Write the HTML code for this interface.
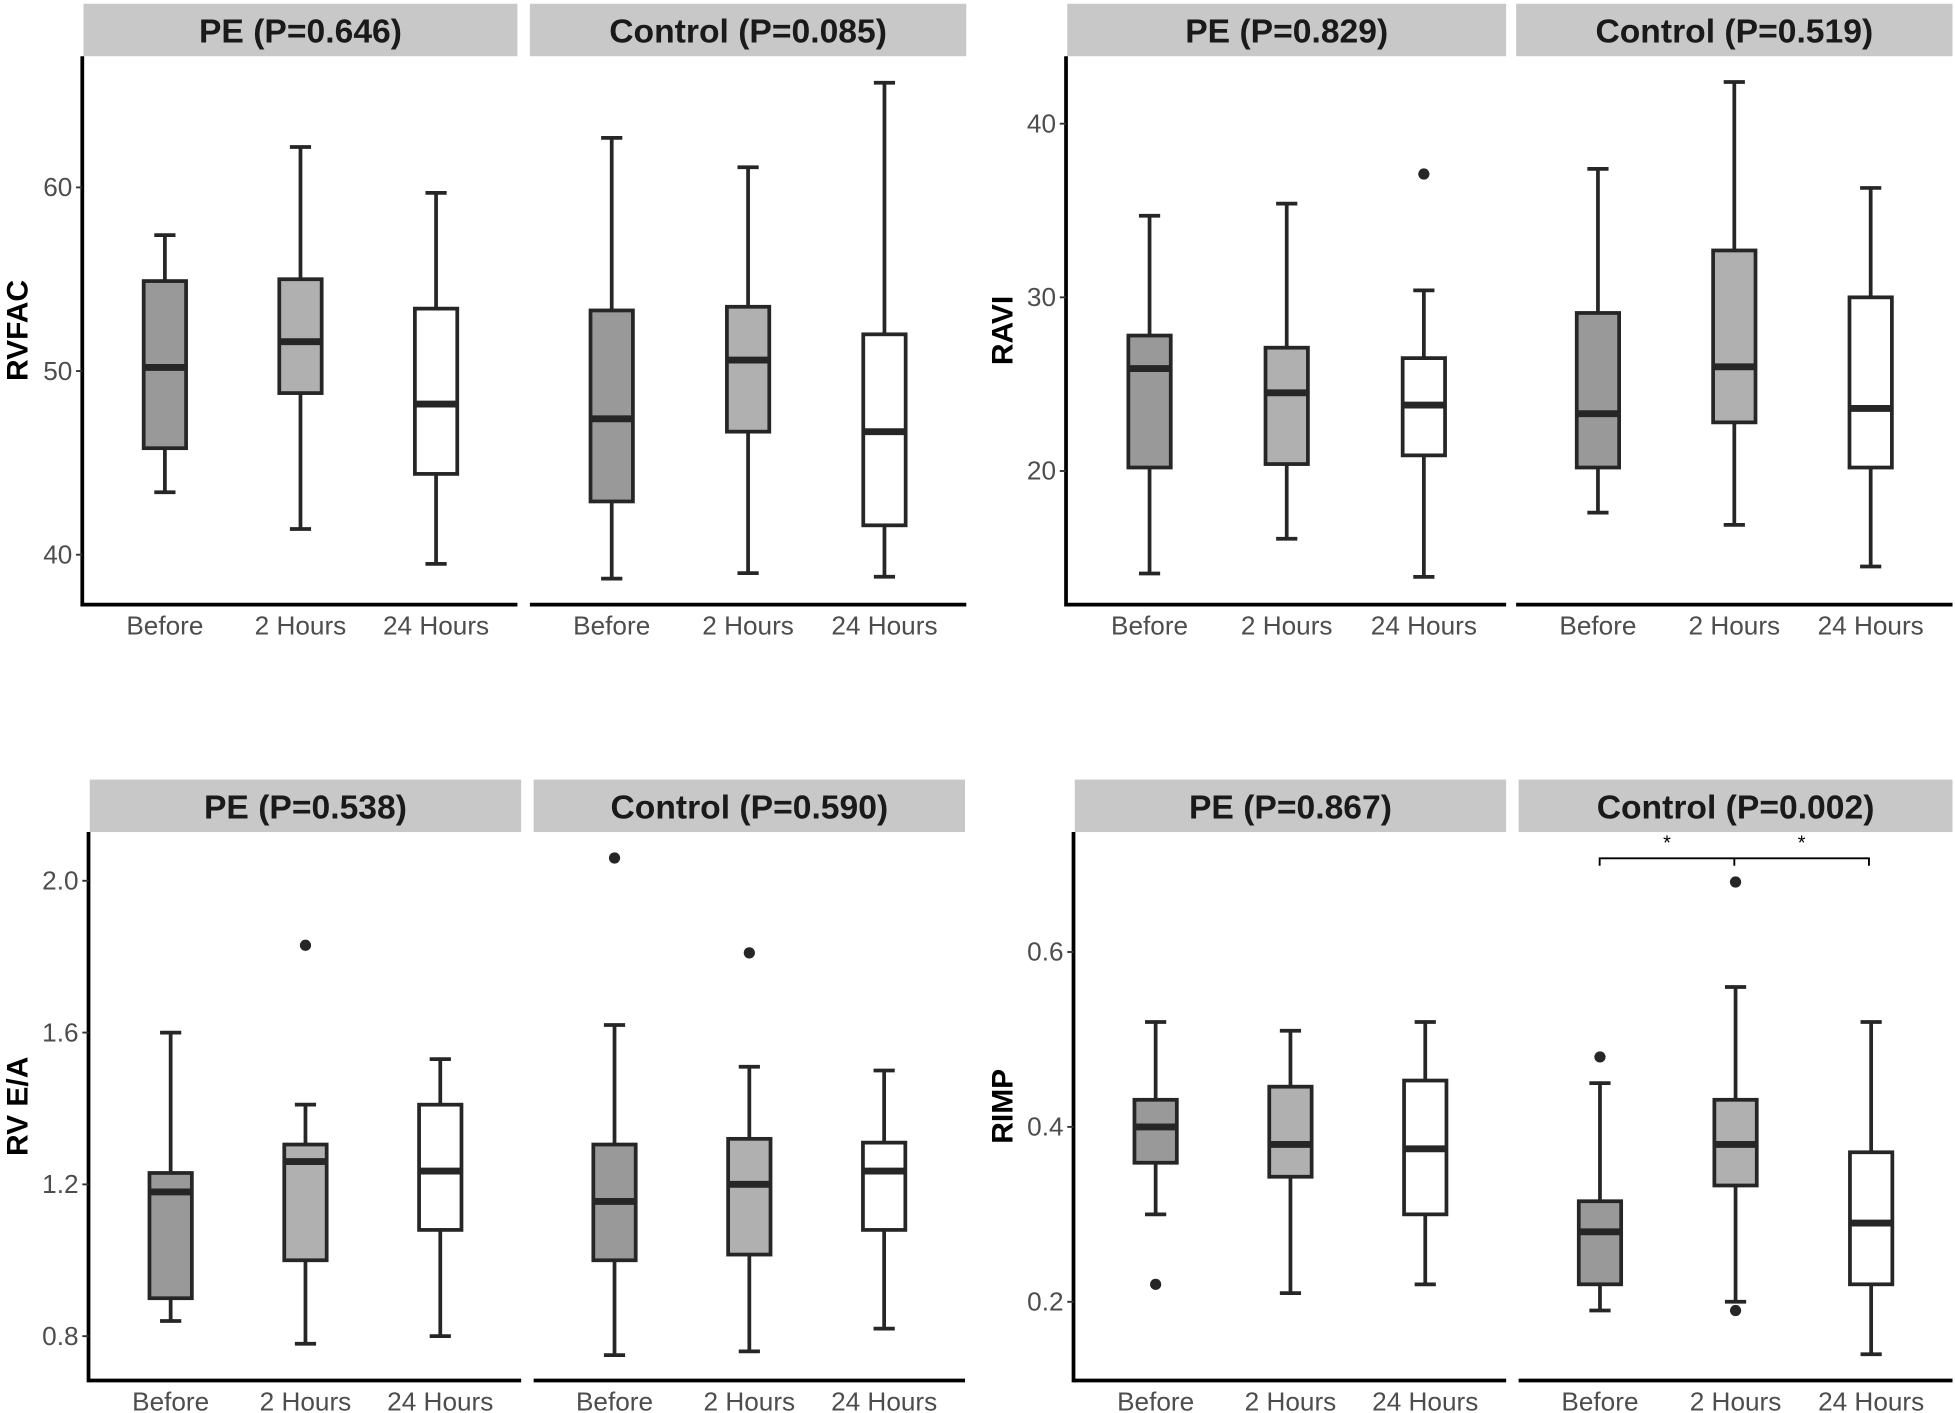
<!DOCTYPE html>
<html><head><meta charset="utf-8"><style>
html,body{margin:0;padding:0;background:#fff;}
svg{display:block;}
text{font-family:"Liberation Sans",Arial,sans-serif;}
</style></head><body>
<svg id="fig" width="1955" height="1413" viewBox="0 0 1568 1131" preserveAspectRatio="none" xmlns="http://www.w3.org/2000/svg"></svg>
<script>
// categories
const groups = ["Before", "2 Hours", "24 Hours"];
// [lowerWhisker, Q1, median, Q3, upperWhisker]
const rvfacPE = [[43.4,45.8,50.2,54.9,57.4],[41.4,48.8,51.6,55.0,62.2],[39.5,44.4,48.2,53.4,59.7]];
const rvfacCtrl = [[38.7,42.9,47.4,53.3,62.7],[39.0,46.7,50.6,53.5,61.1],[38.8,41.6,46.7,52.0,65.7]];
const raviPE = [[14.1,20.2,25.9,27.8,34.7],[16.1,20.4,24.5,27.1,35.4],[13.9,20.9,23.8,26.5,30.4]];
const raviCtrl = [[17.6,20.2,23.3,29.1,37.4],[16.9,22.8,26.0,32.7,42.4],[14.5,20.2,23.6,30.0,36.3]];
const eaPE = [[0.84,0.90,1.18,1.23,1.60],[0.78,1.00,1.26,1.305,1.41],[0.80,1.08,1.235,1.41,1.53]];
const eaCtrl = [[0.75,1.00,1.155,1.305,1.62],[0.76,1.015,1.20,1.32,1.51],[0.82,1.08,1.235,1.31,1.50]];
const rimpPE = [[0.30,0.359,0.40,0.431,0.52],[0.21,0.343,0.38,0.446,0.51],[0.22,0.30,0.375,0.453,0.52]];
const rimpCtrl = [[0.19,0.22,0.28,0.315,0.45],[0.20,0.333,0.38,0.431,0.56],[0.14,0.22,0.29,0.371,0.52]];
// outliers [groupIndex, value]
const raviPEOut = [[2,37.1]];
const eaPEOut = [[1,1.83]];
const eaCtrlOut = [[0,2.06],[1,1.81]];
const rimpPEOut = [[0,0.22]];
const rimpCtrlOut = [[0,0.48],[1,0.68],[1,0.19]];
// tick labels
const rvfacTicks = [40,50,60];
const raviTicks = [20,30,40];
const eaTicks = [0.8,1.2,1.6,2.0];
const rimpTicks = [0.2,0.4,0.6];

const NS="http://www.w3.org/2000/svg";
const svg=document.getElementById('fig');
const fills=["#999999","#b0b0b0","#ffffff"];
function mk(tag,attrs,parent){const e=document.createElementNS(NS,tag);for(const k in attrs)e.setAttribute(k,attrs[k]);(parent||svg).appendChild(e);return e;}

function panel(p){
  const g=mk('g',{});
  
  
  const y=v=>p.y0+(v-p.v0)*(p.y1-p.y0)/(p.v1-p.v0);
  p.facets.forEach((f,fi)=>{
    const s=mk('rect',{x:f.x0,y:p.top-42,width:f.x1-f.x0,height:42,fill:'#c8c8c8'},g);
    
    
    const t=mk('text',{x:(f.x0+f.x1)/2,y:p.top-11,'text-anchor':'middle','font-size':27,'font-weight':'bold',fill:'#1a1a1a'},g);
    t.textContent=f.label;
    
    
    const ax=mk('line',{x1:f.x0,x2:f.x1,y1:p.bottom,y2:p.bottom,stroke:'#000','stroke-width':3},g);
    
    
    const step=(f.x1-f.x0)/3.2;
    const pos=i=>f.x0+step*(i+0.6);
    groups.forEach((gn,i)=>{
      const cx=pos(i);
      const d=f.data[i];
      const bw=34, cap=17;
      mk('line',{x1:cx,x2:cx,y1:y(d[0]),y2:y(d[4]),stroke:'#262626','stroke-width':3},g);
      mk('line',{x1:cx-cap/2,x2:cx+cap/2,y1:y(d[0]),y2:y(d[0]),stroke:'#262626','stroke-width':3},g);
      mk('line',{x1:cx-cap/2,x2:cx+cap/2,y1:y(d[4]),y2:y(d[4]),stroke:'#262626','stroke-width':3},g);
      const b=mk('rect',{x:cx-bw/2,y:y(d[3]),width:bw,height:y(d[1])-y(d[3]),fill:fills[i],stroke:'#262626','stroke-width':3},g);
      
      
      mk('line',{x1:cx-bw/2,x2:cx+bw/2,y1:y(d[2]),y2:y(d[2]),stroke:'#262626','stroke-width':5.5},g);
      const tl=mk('text',{x:cx,y:p.bottom+24,'text-anchor':'middle','font-size':21,fill:'#4d4d4d'},g);
      tl.textContent=gn;
      
      
    });
    (f.out||[]).forEach(o=>{
      const c=mk('circle',{cx:pos(o[0]),cy:y(o[1]),r:4.5,fill:'#262626'},g);
      
      
    });
  });
  const x0=p.facets[0].x0-1;
  const ya=mk('line',{x1:x0,x2:x0,y1:p.top,y2:p.bottom+1.5,stroke:'#000','stroke-width':3},g);
  
  
  p.ticks.forEach(t=>{
    mk('line',{x1:x0-5,x2:x0,y1:y(t),y2:y(t),stroke:'#333','stroke-width':1.5},g);
    const tt=mk('text',{x:x0-8,y:y(t)+7,'text-anchor':'end','font-size':21,fill:'#4d4d4d'},g);
    tt.textContent=p.fmt(t);
    
    
  });
  const yt=mk('text',{x:0,y:0,'text-anchor':'middle','font-size':24,'font-weight':'bold',fill:'#000',transform:`translate(${p.titleX},${(p.top+p.bottom)/2}) rotate(-90)`},g);
  yt.textContent=p.title;
  
  
  return {g,y};
}

panel({name:'rvfac-panel',title:'RVFAC',titleX:22,top:45,bottom:484,v0:50,v1:60,y0:297,y1:150,ticks:rvfacTicks,fmt:t=>String(t),
  facets:[{x0:67,x1:415,label:'PE (P=0.646)',data:rvfacPE},{x0:425,x1:775,label:'Control (P=0.085)',data:rvfacCtrl}]});
panel({name:'ravi-panel',title:'RAVI',titleX:812,top:45,bottom:484,v0:30,v1:40,y0:238,y1:99,ticks:raviTicks,fmt:t=>String(t),
  facets:[{x0:856,x1:1208,label:'PE (P=0.829)',data:raviPE,out:raviPEOut},{x0:1216,x1:1566,label:'Control (P=0.519)',data:raviCtrl}]});
panel({name:'rv-ea-panel',title:'RV E/A',titleX:22,top:666,bottom:1105,v0:1.2,v1:2.0,y0:948,y1:705,ticks:eaTicks,fmt:t=>t.toFixed(1),
  facets:[{x0:72,x1:418,label:'PE (P=0.538)',data:eaPE,out:eaPEOut},{x0:428,x1:774,label:'Control (P=0.590)',data:eaCtrl,out:eaCtrlOut}]});
panel({name:'rimp-panel',title:'RIMP',titleX:812,top:666,bottom:1105,v0:0.4,v1:0.6,y0:902,y1:762,ticks:rimpTicks,fmt:t=>t.toFixed(1),
  facets:[{x0:862,x1:1208,label:'PE (P=0.867)',data:rimpPE,out:rimpPEOut},{x0:1218,x1:1566,label:'Control (P=0.002)',data:rimpCtrl,out:rimpCtrlOut}]});
// significance bracket
const by=687;
const br=mk('path',{d:`M1283,${by+6} V${by} H1499 V${by+6} M1391,${by} V${by+6}`,fill:'none',stroke:'#000','stroke-width':1.5});


[1337,1445].forEach(x=>{const s=mk('text',{x:x,y:680,'text-anchor':'middle','font-size':16,fill:'#000'});s.textContent='*';

});
</script>
</body></html>
